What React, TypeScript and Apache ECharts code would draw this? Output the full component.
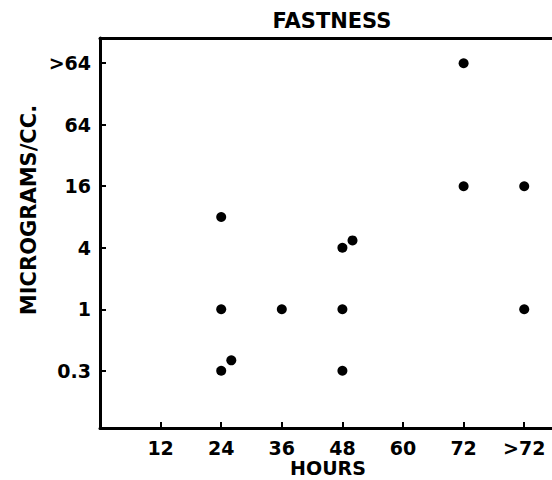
import React, { useEffect, useRef } from "react";
import * as echarts from "echarts";

// x: hours (84 stands for ">72"), y: position on the concentration scale (1 = 0.3, 2 = 1, 3 = 4, 4 = 16, 5 = 64, 6 = >64)
const hoursData = [72, 72, 84, 24, 48, 50, 24, 36, 48, 84, 24, 26, 48];
const levelData = [6, 4, 4, 3.5, 3, 3.12, 2, 2, 2, 2, 1, 1.17, 1];

const xTickValues = [12, 24, 36, 48, 60, 72, 84];
const xTickLabels = ["12", "24", "36", "48", "60", "72", ">72"];
const yTickValues = [1, 2, 3, 4, 5, 6];
const yTickLabels = ["0.3", "1", "4", "16", "64", ">64"];

const FONT = "DejaVu Sans";

export default function App() {
  const ref = useRef<HTMLDivElement>(null);
  useEffect(() => {
    if (!ref.current) return;
    const chart = echarts.init(ref.current, null, { renderer: "svg" });
    const axisLineStyle = { color: "#000", width: 3 };
    chart.setOption({
      animation: false,
      backgroundColor: "#fff",
      grid: { left: 100, right: 0, top: 38, bottom: 52 },
      xAxis: [
        {
          type: "value",
          min: 0,
          max: 89.5,
          interval: 12,
          axisLine: { show: true, lineStyle: axisLineStyle },
          axisTick: {
            show: true,
            inside: true,
            length: 6,
            customValues: xTickValues,
            lineStyle: { color: "#000", width: 2 },
          },
          axisLabel: {
            customValues: xTickValues,
            formatter: (v: number) => xTickLabels[xTickValues.indexOf(v)] ?? "",
            color: "#000",
            fontFamily: FONT,
            fontWeight: "bold",
            fontSize: 19,
            margin: 10,
          },
          splitLine: { show: false },
        },
        {
          type: "value",
          position: "top",
          min: 0,
          max: 89.5,
          axisLine: { show: true, lineStyle: axisLineStyle },
          axisTick: { show: false },
          axisLabel: { show: false },
          splitLine: { show: false },
        },
      ],
      yAxis: {
        type: "value",
        min: 0.07,
        max: 6.41,
        axisLine: { show: true, lineStyle: axisLineStyle },
        axisTick: {
          show: true,
          inside: true,
          length: 6,
          customValues: yTickValues,
          lineStyle: { color: "#000", width: 2 },
        },
        axisLabel: {
          customValues: yTickValues,
          formatter: (v: number) => yTickLabels[yTickValues.indexOf(v)] ?? "",
          color: "#000",
          fontFamily: FONT,
          fontWeight: "bold",
          fontSize: 19,
          margin: 9,
        },
        splitLine: { show: false },
      },
      graphic: [
        {
          type: "text",
          x: 332,
          y: 21,
          style: {
            text: "FASTNESS",
            fill: "#000",
            font: `bold 21px "${FONT}"`,
            textAlign: "center",
            textVerticalAlign: "middle",
          },
        },
        {
          type: "text",
          x: 328,
          y: 468,
          style: {
            text: "HOURS",
            fill: "#000",
            font: `bold 19px "${FONT}"`,
            textAlign: "center",
            textVerticalAlign: "middle",
          },
        },
        {
          type: "text",
          x: 29,
          y: 210,
          rotation: Math.PI / 2,
          style: {
            text: "MICROGRAMS/CC.",
            fill: "#000",
            font: `bold 21px "${FONT}"`,
            textAlign: "center",
            textVerticalAlign: "middle",
          },
        },
      ],
      series: [
        {
          type: "scatter",
          symbol: "circle",
          symbolSize: 10,
          itemStyle: { color: "#000", opacity: 1 },
          data: hoursData.map((h, i) => [h, levelData[i]]),
        },
      ],
    });
    return () => chart.dispose();
  }, []);
  return (
    <div
      ref={ref}
      style={{ position: "fixed", left: 0, top: 0, width: 552, height: 480 }}
    />
  );
}
